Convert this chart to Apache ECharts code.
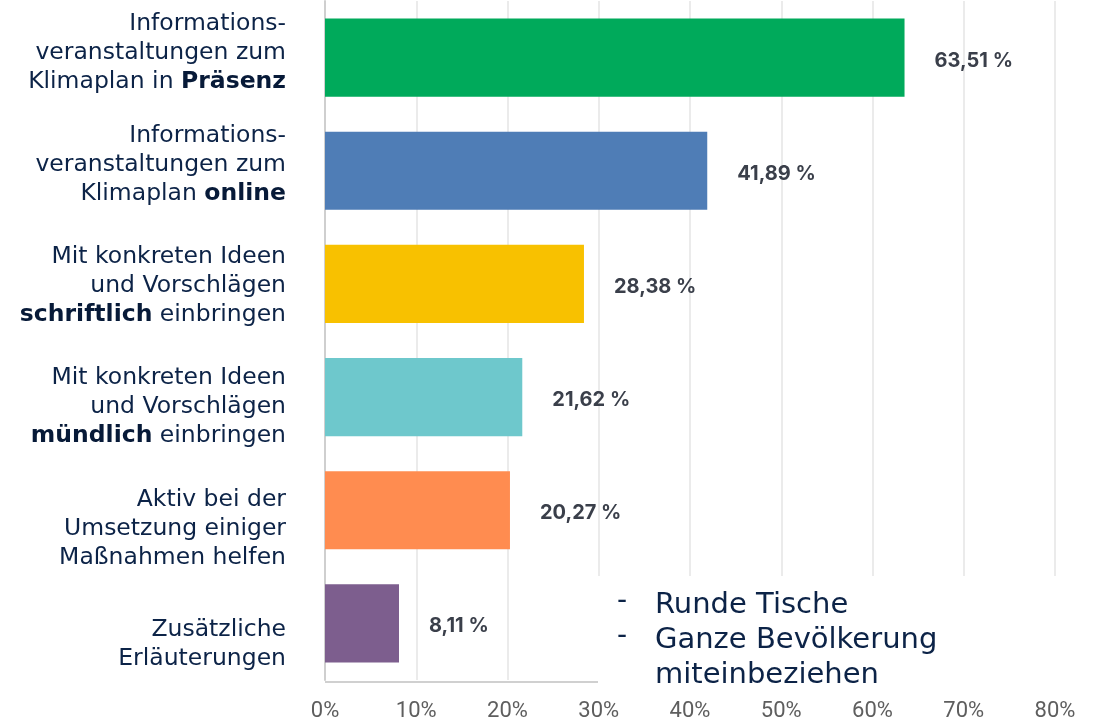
<!DOCTYPE html>
<html>
<head>
<meta charset="utf-8">
<script src="https://cdn.jsdelivr.net/npm/echarts@6/dist/echarts.min.js"></script>
<style>
  html, body { margin: 0; padding: 0; background: #fff; }
  #chart { width: 1093px; height: 722px; }
</style>
</head>
<body>
<div id="chart"></div>
<script>
// category labels, {b|...} marks the bold word
const categories = [
  "Informations-\nveranstaltungen zum\nKlimaplan in {b|Präsenz}",
  "Informations-\nveranstaltungen zum\nKlimaplan {b|online}",
  "Mit konkreten Ideen\nund Vorschlägen\n{b|schriftlich} einbringen",
  "Mit konkreten Ideen\nund Vorschlägen\n{b|mündlich} einbringen",
  "Aktiv bei der\nUmsetzung einiger\nMaßnahmen helfen",
  "Zusätzliche\nErläuterungen"
];
const values = [63.51, 41.89, 28.38, 21.62, 20.27, 8.11];
const barColors = ["#00aa5b", "#4f7db6", "#f8c100", "#6ec8cc", "#ff8c50", "#7d5e8e"];
const notes = ["Runde Tische", "Ganze Bevölkerung\nmiteinbeziehen"];

// small vertical nudges of the left labels (px), as in the source layout
const labelNudge = [-5, -6, 2, 10, 19, 21];

const NAVY = "#0c2347";
const chart = echarts.init(document.getElementById("chart"));

const fmtPct = (v) => v.toFixed(2).replace(".", ",") + " %";

chart.setOption({
  animation: false,
  grid: { left: 325, right: 38, top: 1, bottom: 40, containLabel: false },
  xAxis: {
    type: "value", min: 0, max: 80, interval: 10,
    axisLine: { show: false }, axisTick: { show: false },
    splitLine: { show: true, lineStyle: { color: "#ebebeb", width: 2 } },
    axisLabel: { formatter: "{value}%", color: "#5e5e5e", fontFamily: "Roboto", fontSize: 22, margin: 20 }
  },
  yAxis: {
    type: "category", inverse: true,
    data: categories.map((c, i) => {
      const d = labelNudge[i];
      return { value: c, textStyle: { padding: d >= 0 ? [2 * d, 0, 0, 0] : [0, 0, -2 * d, 0] } };
    }),
    axisTick: { show: false },
    axisLine: { show: true, lineStyle: { color: "#cfcfcf", width: 2 } },
    axisLabel: {
      margin: 39, align: "right", color: NAVY,
      fontFamily: "DejaVu Sans", fontSize: 23.5, lineHeight: 29,
      rich: { b: { fontFamily: "DejaVu Sans", fontWeight: 900, fontSize: 23.5, lineHeight: 29, color: "#071a38" } }
    }
  },
  series: [{
    type: "bar", barCategoryGap: "31%",
    data: values.map((v, i) => ({ value: v, itemStyle: { color: barColors[i] } })),
    label: {
      show: true, position: "right", distance: 30, offset: [0, 3],
      formatter: (p) => fmtPct(p.value),
      color: "#3a3f4a", fontFamily: "Inter", fontWeight: 700, fontSize: 20
    }
  }],
  graphic: [
    // bottom axis line (only under the left part)
    { type: "rect", z: 50, shape: { x: 325, y: 681, width: 273, height: 2 }, style: { fill: "#d0d0d0" } },
    // white box over the lower-right part of the plot
    { type: "rect", z: 100, shape: { x: 598, y: 576, width: 495, height: 114 }, style: { fill: "#ffffff" } },
    { type: "text", z: 101, left: 617, top: 588, style: { text: "-", fill: NAVY, font: "28px 'DejaVu Sans'" } },
    { type: "text", z: 101, left: 617, top: 623, style: { text: "-", fill: NAVY, font: "28px 'DejaVu Sans'" } },
    { type: "text", z: 101, left: 655, top: 588, style: { text: notes[0], fill: NAVY, font: "29px 'DejaVu Sans'", lineHeight: 35 } },
    { type: "text", z: 101, left: 655, top: 623, style: { text: notes[1], fill: NAVY, font: "29px 'DejaVu Sans'", lineHeight: 35 } }
  ]
});
</script>
</body>
</html>
